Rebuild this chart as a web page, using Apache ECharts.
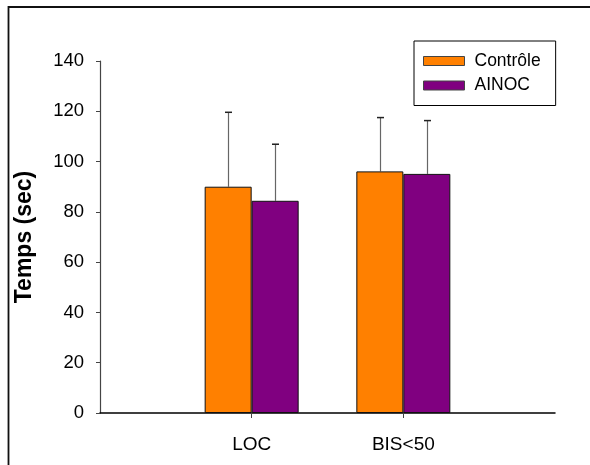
<!DOCTYPE html>
<html>
<head>
<meta charset="utf-8">
<script src="https://cdn.jsdelivr.net/npm/echarts@6/dist/echarts.min.js"></script>
<style>
html,body{margin:0;padding:0;background:#fff;}
#c{width:590px;height:465px;}
</style>
</head>
<body>
<div id="c"></div>
<script>
const categories = ['', 'LOC', 'BIS<50', ''];
const seriesNames = ['Contrôle', 'AINOC'];
const controleMean = [null, 90.0, 96.1, null];
const controleErr = [null, 29.6, 21.4, null];
const ainocMean = [null, 84.4, 95.1, null];
const ainocErr = [null, 22.5, 21.2, null];
const yTicks = [0, 20, 40, 60, 80, 100, 120, 140];

const colors = ['#FF8000', '#800080'];
const BAR_W = 47;
const FONT = 'Liberation Sans, Arial, sans-serif';

function errData(means, errs) {
  const out = [];
  means.forEach((m, i) => { if (m != null) out.push([i, m, m + errs[i]]); });
  return out;
}

function errSeries(means, errs, offset) {
  return {
    type: 'custom',
    name: 'err' + offset,
    data: errData(means, errs),
    z: 1,
    renderItem: function (params, api) {
      const base = api.coord([api.value(0), api.value(1)]);
      const top = api.coord([api.value(0), api.value(2)]);
      const x = Math.round(base[0] + offset) + 0.5;
      return {
        type: 'group',
        children: [
          { type: 'line', shape: { x1: x, y1: base[1], x2: x, y2: top[1] }, style: { stroke: '#666', lineWidth: 1.2 } },
          { type: 'line', shape: { x1: x - 3.5, y1: top[1], x2: x + 3.5, y2: top[1] }, style: { stroke: '#222', lineWidth: 1.5 } }
        ]
      };
    }
  };
}

const chart = echarts.init(document.getElementById('c'));
chart.setOption({
  animation: false,
  textStyle: { fontFamily: FONT },
  graphic: [{
    type: 'rect', shape: { x: 8.5, y: 7, width: 600, height: 500 },
    style: { fill: 'none', stroke: '#111', lineWidth: 1.8 }, z: 100
  }],
  grid: { left: 100, right: 35, top: 61, bottom: 52 },
  legend: {
    data: seriesNames,
    orient: 'vertical',
    left: 414, top: 41,
    padding: [11, 15, 11, 9],
    itemGap: 6.5,
    itemWidth: 41, itemHeight: 9,
    borderColor: '#000', borderWidth: 1,
    textStyle: { fontSize: 17.5, color: '#000', fontFamily: FONT, padding: [0, 0, 0, 5] },
    icon: 'rect',
    itemStyle: { borderColor: '#444', borderWidth: 1 }
  },
  xAxis: {
    type: 'category',
    data: categories,
    boundaryGap: false,
    axisLine: { lineStyle: { color: '#000', width: 1.5 } },
    axisTick: { length: 5, interval: (i) => i === 1 || i === 2, lineStyle: { color: '#444' } },
    axisLabel: { interval: 0, margin: 22, fontSize: 19, color: '#000' },
    splitLine: { show: false }
  },
  yAxis: {
    type: 'value',
    min: yTicks[0], max: yTicks[yTicks.length - 1], interval: 20,
    name: 'Temps (sec)',
    nameLocation: 'middle',
    nameGap: 64,
    nameTextStyle: { fontSize: 23, fontWeight: 'bold', color: '#000' },
    axisLine: { show: true, lineStyle: { color: '#444', width: 1.2 } },
    axisTick: { show: true, length: 4, lineStyle: { color: '#444' } },
    axisLabel: { margin: 16, fontSize: 18.5, color: '#000' },
    splitLine: { show: false }
  },
  series: [
    {
      type: 'bar', name: seriesNames[0], data: controleMean,
      barWidth: BAR_W, barGap: '0%',
      itemStyle: { color: colors[0], borderColor: '#111', borderWidth: 1 }, z: 2
    },
    {
      type: 'bar', name: seriesNames[1], data: ainocMean,
      barWidth: BAR_W, barGap: '0%',
      itemStyle: { color: colors[1], borderColor: '#111', borderWidth: 1 }, z: 2
    },
    errSeries(controleMean, controleErr, -BAR_W / 2),
    errSeries(ainocMean, ainocErr, BAR_W / 2)
  ]
});
</script>
</body>
</html>
